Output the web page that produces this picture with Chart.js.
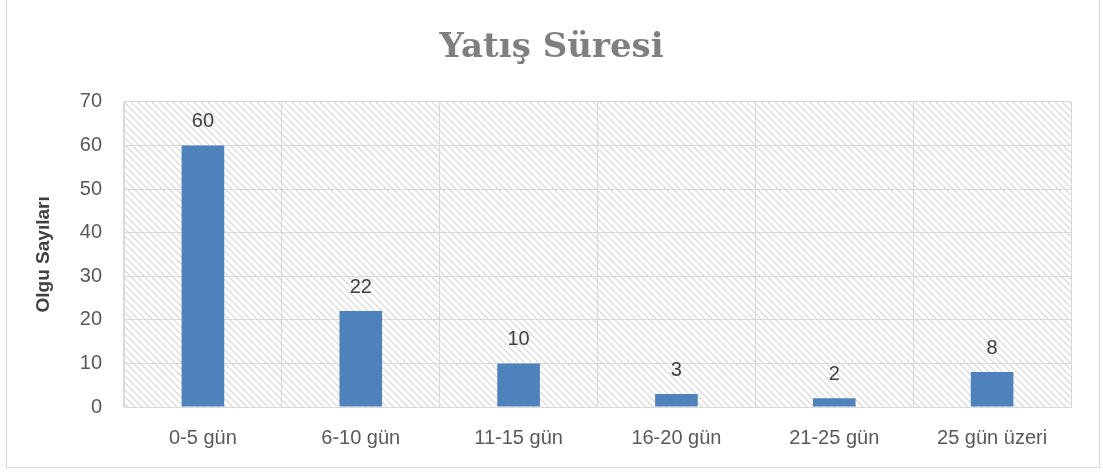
<!DOCTYPE html>
<html>
<head>
<meta charset="utf-8">
<script src="https://cdn.jsdelivr.net/npm/chart.js@4"></script>
<style>
  html, body { margin: 0; padding: 0; background: #fff; }
  #wrap { position: absolute; left: 6px; top: -2px; width: 1092px; height: 468px; border: 1px solid #d9d9d9; background: #fff; }
  canvas { position: absolute; left: 0; top: 0; }
</style>
</head>
<body>
<div id="wrap"><canvas id="chart" width="1092" height="468"></canvas></div>
<script>
const categories = ['0-5 gün', '6-10 gün', '11-15 gün', '16-20 gün', '21-25 gün', '25 gün üzeri'];
const counts = [60, 22, 10, 3, 2, 8];
const yTicks = [0, 10, 20, 30, 40, 50, 60, 70];

const tickFont = { family: '"Liberation Sans", sans-serif', size: 20 };

// diagonal hatch for the plot background
function makeHatch(ctx) {
  const s = 7;
  const c = document.createElement('canvas');
  c.width = s; c.height = s;
  const g = c.getContext('2d');
  g.strokeStyle = '#d4d4d4';
  g.lineWidth = 1.1;
  g.beginPath();
  for (let k = -1; k <= 1; k++) {
    g.moveTo(k * s - 2, -2); g.lineTo(k * s + s + 2, s + 2);
  }
  g.stroke();
  return ctx.createPattern(c, 'repeat');
}

const hatchBg = {
  id: 'hatchBg',
  beforeDraw(chart) {
    const { ctx, chartArea: a } = chart;
    ctx.save();
    ctx.fillStyle = makeHatch(ctx);
    ctx.fillRect(a.left, a.top, a.right - a.left, a.bottom - a.top);
    ctx.restore();
  }
};

const valueLabels = {
  id: 'valueLabels',
  afterDatasetsDraw(chart) {
    const { ctx } = chart;
    ctx.save();
    ctx.font = '20px "Liberation Sans", sans-serif';
    ctx.fillStyle = '#404040';
    ctx.textAlign = 'center';
    ctx.textBaseline = 'alphabetic';
    chart.getDatasetMeta(0).data.forEach((bar, i) => {
      ctx.fillText(counts[i], bar.x, bar.y - 18);
    });
    ctx.restore();
  }
};

const ctx = document.getElementById('chart').getContext('2d');
new Chart(ctx, {
  type: 'bar',
  data: {
    labels: categories,
    datasets: [{
      data: counts,
      backgroundColor: '#4f81bd',
      barPercentage: 0.27,
      categoryPercentage: 1
    }]
  },
  options: {
    responsive: false,
    animation: false,
    layout: { padding: { left: 25, right: 28, top: 0, bottom: 0 } },
    plugins: {
      legend: { display: false },
      tooltip: { enabled: false },
      title: {
        display: true,
        text: 'Yatış Süresi',
        color: '#7f7f7f',
        font: { family: '"DejaVu Serif", serif', size: 34, weight: 'bold', lineHeight: 1.2 },
        padding: { top: 29, bottom: 33 }
      }
    },
    scales: {
      x: {
        grid: { color: '#d9d9d9', drawTicks: false },
        border: { color: '#d9d9d9' },
        ticks: { color: '#595959', font: tickFont, padding: 19 },
        afterFit(scale) { scale.height = 60; }
      },
      y: {
        min: 0,
        max: 70,
        afterBuildTicks(scale) { scale.ticks = yTicks.map(v => ({ value: v })); },
        grid: { color: '#d9d9d9', drawTicks: false },
        border: { color: '#d9d9d9' },
        ticks: { color: '#595959', font: tickFont, padding: 22 },
        title: {
          display: true,
          text: 'Olgu Sayıları',
          color: '#404040',
          font: { family: '"Liberation Sans", sans-serif', size: 19, weight: 'bold' },
          padding: { top: 0, bottom: 0 }
        },
        afterFit(scale) { scale.width = 92; }
      }
    }
  },
  plugins: [hatchBg, valueLabels]
});
</script>
</body>
</html>
